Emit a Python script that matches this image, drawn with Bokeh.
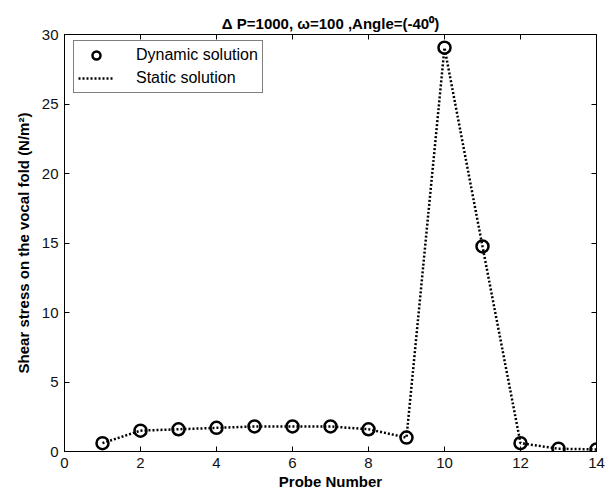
from bokeh.plotting import figure
from bokeh.models import (ColumnDataSource, Range1d, LinearAxis, FixedTicker,
                          Legend, LegendItem)
from bokeh.embed import file_html
from bokeh.resources import INLINE

# Shear stress at each probe position
probe = [1, 2, 3, 4, 5, 6, 7, 8, 9, 10, 11, 12, 13, 14]
dynamic_stress = [0.6, 1.5, 1.6, 1.7, 1.8, 1.8, 1.8, 1.6, 1.0, 29.05, 14.75, 0.6, 0.2, 0.15]
static_stress = [0.6, 1.5, 1.6, 1.7, 1.8, 1.8, 1.8, 1.6, 1.0, 29.05, 14.75, 0.6, 0.2, 0.15]
x_ticks = [0, 2, 4, 6, 8, 10, 12, 14]
y_ticks = [0, 5, 10, 15, 20, 25, 30]

FONT = "Liberation Sans"

src = ColumnDataSource(dict(x=probe, dyn=dynamic_stress, stat=static_stress))

p = figure(width=610, height=498, output_backend="svg", toolbar_location=None,
           x_range=Range1d(0, 14), y_range=Range1d(0, 30),
           min_border_left=64, min_border_right=14, min_border_top=34,
           min_border_bottom=47)
p.xgrid.visible = False
p.ygrid.visible = False
p.outline_line_color = "black"
p.outline_line_width = 1
p.background_fill_color = "white"
p.border_fill_color = "white"

p.title.text = "\u0394 P=1000, \u03c9=100 ,Angle=(-40\u2070)"
p.title.align = "center"
p.title.text_font = FONT
p.title.text_font_size = "15px"
p.title.text_font_style = "bold"
p.title.text_color = "black"
p.title.standoff = 5

def style_axis(ax, ticks, labels=True):
    ax.ticker = FixedTicker(ticks=ticks)
    ax.major_tick_in = 5
    ax.major_tick_out = 0
    ax.minor_tick_in = 0
    ax.minor_tick_out = 0
    ax.axis_line_color = "black"
    ax.major_tick_line_color = "black"
    ax.major_label_text_font = FONT
    if labels:
        ax.major_label_text_font_size = "15px"
        ax.major_label_text_color = "#111111"
    else:
        # tick marks only, no numbers
        ax.major_label_text_font_size = "1px"
        ax.major_label_text_color = None
        ax.major_label_standoff = 0
    ax.axis_label_text_font = FONT
    ax.axis_label_text_font_style = "bold"
    ax.axis_label_text_color = "black"

style_axis(p.xaxis[0], x_ticks)
style_axis(p.yaxis[0], y_ticks)
p.xaxis[0].axis_label = "Probe Number"
p.xaxis[0].axis_label_text_font_size = "15px"
p.xaxis[0].axis_label_standoff = 2
p.xaxis[0].major_label_standoff = 6
p.yaxis[0].axis_label = "Shear stress on the vocal fold (N/m\u00b2)"
p.yaxis[0].axis_label_text_font_size = "15px"
p.yaxis[0].axis_label_standoff = 7
p.yaxis[0].major_label_standoff = 6

# mirrored box ticks on top and right
top = LinearAxis()
style_axis(top, x_ticks, labels=False)
p.add_layout(top, "above")
right = LinearAxis()
style_axis(right, y_ticks, labels=False)
p.add_layout(right, "right")

static_r = p.line("x", "stat", source=src, line_color="black", line_width=2.5,
                  line_dash="2 2")
dyn_r = p.scatter("x", "dyn", source=src, marker="circle", size=12,
                  line_color="black", line_width=2.5, fill_color=None)

legend = Legend(items=[LegendItem(label="Dynamic solution", renderers=[dyn_r]),
                       LegendItem(label="Static solution", renderers=[static_r])],
                location=(9, 358))
legend.border_line_color = "black"
legend.border_line_width = 1
legend.label_text_font = FONT
legend.label_text_font_size = "16px"
legend.label_text_color = "black"
legend.glyph_width = 36
legend.glyph_height = 20
legend.label_height = 20
legend.spacing = 3
legend.padding = 4
legend.margin = 0
legend.label_standoff = 22
legend.background_fill_alpha = 1
p.add_layout(legend, "center")

open("out.html", "w").write(file_html(p, INLINE))
